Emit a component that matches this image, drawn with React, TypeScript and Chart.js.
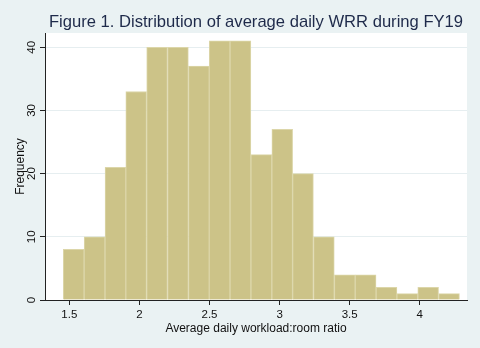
import React, { useEffect, useRef } from "react";
import { Chart, registerables } from "chart.js";

Chart.register(...registerables);

const binCenters = [1.531, 1.680, 1.829, 1.977, 2.126, 2.275, 2.424, 2.572, 2.721, 2.870, 3.019, 3.167, 3.316, 3.465, 3.614, 3.763, 3.911, 4.060, 4.209];
const frequencies = [8, 10, 21, 33, 40, 40, 37, 41, 41, 23, 27, 20, 10, 4, 4, 2, 1, 2, 1];
const xTickValues = [1.5, 2, 2.5, 3, 3.5, 4];
const yTickValues = [0, 10, 20, 30, 40];
const titleText = "Figure 1. Distribution of average daily WRR during FY19";
const xTitle = "Average daily workload:room ratio";
const yTitle = "Frequency";

const BG = "#EAF2F3";
const FONT = "'Liberation Sans', Arial, Helvetica, sans-serif";

export default function App() {
  const ref = useRef<HTMLCanvasElement | null>(null);

  useEffect(() => {
    document.body.style.margin = "0";
    const canvas = ref.current;
    if (!canvas) return;

    const bgPlugin = {
      id: "bgPlugin",
      beforeDraw(chart: any) {
        const { ctx, chartArea, width, height } = chart;
        ctx.save();
        ctx.fillStyle = BG;
        ctx.fillRect(0, 0, width, height);
        ctx.fillStyle = "#FFFFFF";
        ctx.fillRect(chartArea.left, chartArea.top, chartArea.right - chartArea.left, chartArea.bottom - chartArea.top);
        ctx.restore();
      },
      afterDraw(chart: any) {
        const { ctx } = chart;
        const ys = chart.scales.y;
        ctx.save();
        ctx.fillStyle = "#111111";
        ctx.font = `11.5px ${FONT}`;
        ctx.textAlign = "center";
        ctx.textBaseline = "middle";
        for (const v of yTickValues) {
          const py = ys.getPixelForValue(v);
          ctx.save();
          ctx.translate(31.5, py);
          ctx.rotate(-Math.PI / 2);
          ctx.fillText(String(v), 0, 0);
          ctx.restore();
        }
        ctx.restore();
      },
    };

    const chart = new Chart(canvas, {
      type: "bar",
      data: {
        datasets: [
          {
            data: binCenters.map((x, i) => ({ x, y: frequencies[i] })),
            backgroundColor: "#CCC388",
            borderColor: "#DCD6A9",
            borderWidth: 1,
            barPercentage: 1,
            categoryPercentage: 1,
          } as any,
        ],
      },
      options: {
        animation: false,
        responsive: false,
        layout: { padding: { left: 0, right: 13, top: 0, bottom: 0 } },
        plugins: {
          legend: { display: false },
          tooltip: { enabled: false },
          title: {
            display: true,
            text: titleText,
            fullSize: false,
            color: "#1E2A4A",
            font: { family: FONT, size: 16.6, weight: "normal" },
            padding: { top: 12.5, bottom: 0.6 },
          },
        },
        scales: {
          x: {
            type: "linear",
            min: 1.3265,
            max: 4.337,
            offset: false,
            afterBuildTicks: (axis: any) => {
              axis.ticks = xTickValues.map((v) => ({ value: v }));
            },
            afterFit: (axis: any) => {
              axis.height = 48;
            },
            grid: {
              display: true,
              drawOnChartArea: false,
              drawTicks: true,
              tickLength: 5,
              tickColor: "#222222",
              offset: false,
            },
            border: { display: true, color: "#222222", width: 1 },
            ticks: {
              color: "#111111",
              font: { family: FONT, size: 11.5 },
              padding: 3,
              maxRotation: 0,
              autoSkip: false,
              callback: (v: any) => String(v),
            },
            title: {
              display: true,
              text: xTitle,
              color: "#111111",
              font: { family: FONT, size: 12 },
              padding: { top: 0, bottom: 12.5 },
            },
          },
          y: {
            type: "linear",
            min: 0,
            max: 42.25,
            afterBuildTicks: (axis: any) => {
              axis.ticks = yTickValues.map((v) => ({ value: v }));
            },
            afterFit: (axis: any) => {
              axis.width = 45;
            },
            grid: {
              display: true,
              drawOnChartArea: true,
              color: "#E6EEF0",
              drawTicks: true,
              tickLength: 5,
              tickColor: "#222222",
            },
            border: { display: true, color: "#222222", width: 1 },
            ticks: { display: false },
            title: {
              display: true,
              text: yTitle,
              color: "#111111",
              font: { family: FONT, size: 12 },
              padding: { top: 13, bottom: 0 },
            },
          },
        },
      } as any,
      plugins: [bgPlugin],
    });

    return () => chart.destroy();
  }, []);

  return (
    <div style={{ width: 480, height: 348, background: BG }}>
      <canvas ref={ref} width={480} height={348} style={{ display: "block" }} />
    </div>
  );
}
